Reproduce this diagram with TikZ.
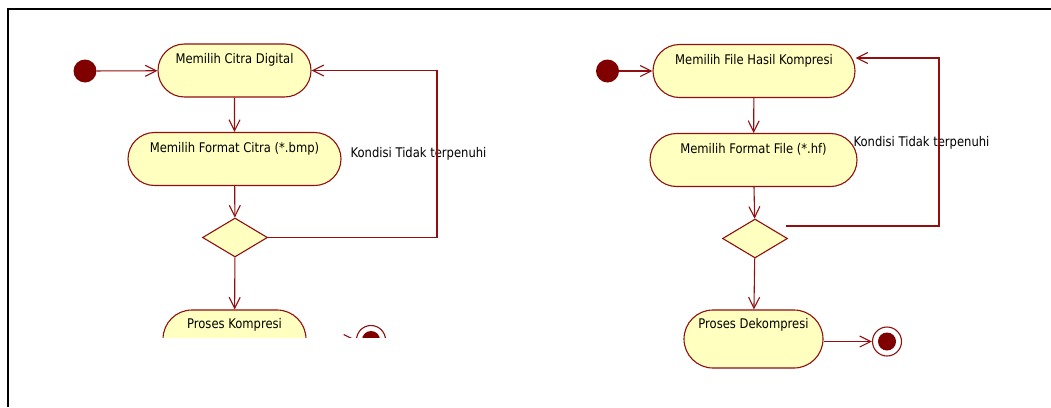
\documentclass[tikz,border=0pt]{standalone}
\usepackage{fontspec}
\setmainfont{DejaVu Sans}[FakeStretch=0.87]
\usetikzlibrary{arrows.meta}
\usetikzlibrary{shapes}

\definecolor{umlline}{RGB}{145,15,15}
\definecolor{umlfill}{RGB}{255,255,192}
\definecolor{umldot}{RGB}{128,0,0}

\tikzset{
  action/.style={rounded rectangle, draw=umlline, line width=1.1pt, fill=umlfill, inner sep=0pt,
    minimum height=53pt, text height=10pt, text depth=24pt,
    font=\fontsize{13.3}{15}\selectfont},
  decision/.style={diamond, draw=umlline, line width=1.1pt, fill=umlfill, inner sep=0pt,
    minimum width=65pt, minimum height=39pt},
  initnode/.style={circle, fill=umldot, inner sep=0pt, minimum size=23pt},
  finalnode/.style={circle, draw=umlline, line width=1.1pt, fill=white, inner sep=0pt, minimum size=29pt,
    path picture={\fill[umldot] (path picture bounding box.center) circle (9pt);}},
  flow/.style={draw=umlline, line width=1.1pt, -{Straight Barb[length=11pt,width=11pt]}},
  guard/.style={font=\fontsize{13.3}{15}\selectfont, inner sep=0pt}
}

\begin{document}
\begin{tikzpicture}[x=1pt, y=-1pt]
   \useasboundingbox (0,0) rectangle (1051,407);
   \draw[line width=2pt] (8,407) -- (8,9) -- (1051,9);

   % kompresi
   \begin{scope}
   \clip (9,10) rectangle (520,337);
   \node[initnode] (mulai1) at (85,71) {};
   \node[action, minimum width=153pt] (citra) at (234.5,70.5) {Memilih Citra Digital};
   \node[action, minimum width=213pt] (format1) at (234.5,159) {Memilih Format Citra (*.bmp)};
   \node[decision] (cek1) at (235,237.5) {};
   \node[action, minimum width=143pt, minimum height=58pt, text depth=31pt] (kompresi) at (234.5,339) {Proses Kompresi};
   \node[finalnode] (selesai1) at (371,340) {};
   \node[guard] (syarat1) at (418.5,154) {Kondisi Tidak terpenuhi};
   \coordinate (balik1) at (437,70.5);
   \draw[flow] (mulai1) -- (citra);
   \draw[flow] (citra) -- (format1);
   \draw[flow] (format1) -- (cek1);
   \draw[flow] (cek1) -- (kompresi);
   \draw[flow] (cek1.east) -| (balik1) -- (citra.east);
   \draw[flow] (kompresi.east |- selesai1) -- (selesai1);
   \end{scope}

   % dekompresi
   \node[initnode] (mulai2) at (607.5,71) {};
   \node[action, minimum width=202pt] (hasil) at (754,71) {Memilih File Hasil Kompresi};
   \node[action, minimum width=207pt] (format2) at (753.5,160) {Memilih Format File (*.hf)};
   \node[decision] (cek2) at (755,238.5) {};
   \node[action, minimum width=139pt, minimum height=58pt, text depth=31pt] (dekompresi) at (753.5,339) {Proses Dekompresi};
   \node[finalnode] (selesai2) at (887,341.5) {};
   \node[guard] (syarat2) at (921.5,143) {Kondisi Tidak terpenuhi};
   \coordinate (dari2) at (786,226);
   \coordinate (balik2) at (939,58);
   \draw[flow] (mulai2) -- (hasil);
   \draw[flow] (hasil) -- (format2);
   \draw[flow] (format2) -- (cek2);
   \draw[flow] (cek2) -- (dekompresi);
   \draw[flow] (dari2) -| (balik2) -- (balik2 -| hasil.east);
   \draw[flow] (dekompresi.east |- selesai2) -- (selesai2);
\end{tikzpicture}
\end{document}
